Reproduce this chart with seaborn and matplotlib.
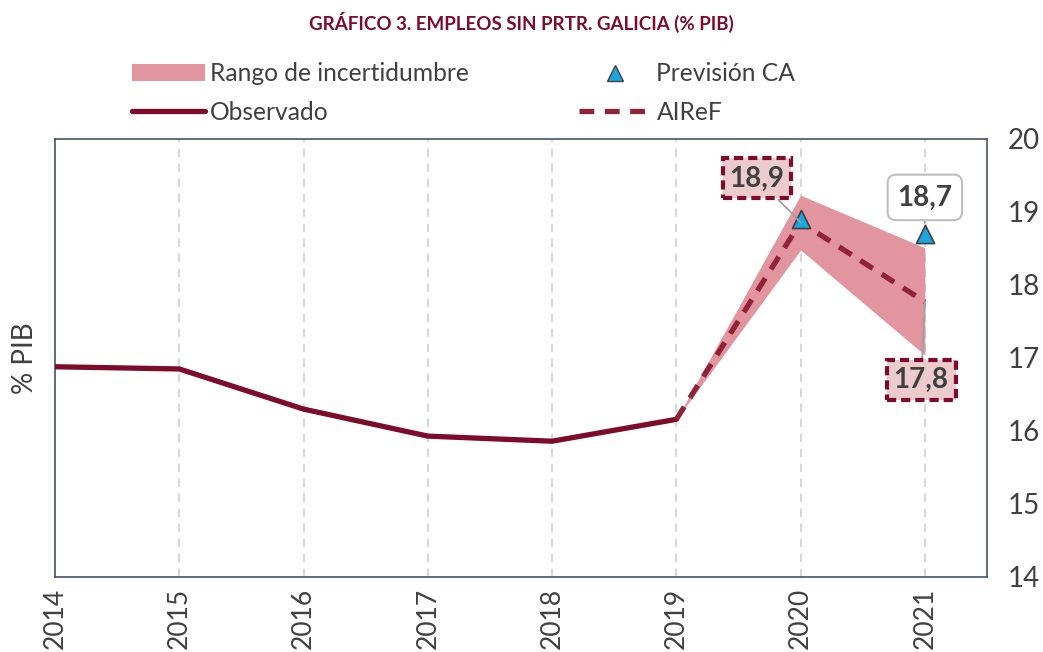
import matplotlib
matplotlib.use("Agg")
import matplotlib.pyplot as plt
import seaborn as sns
import pandas as pd
import numpy as np
from matplotlib.patches import Patch
from matplotlib.lines import Line2D

years = [2014, 2015, 2016, 2017, 2018, 2019, 2020, 2021]
observado = [16.88, 16.85, 16.30, 15.93, 15.86, 16.16]
obs_years = [2014, 2015, 2016, 2017, 2018, 2019]
airef_years = [2019, 2020, 2021]
airef = [16.16, 18.86, 17.77]
band_low = [16.16, 18.48, 17.04]
band_high = [16.16, 19.23, 18.51]
prev_years = [2020, 2021]
prevision = [18.9, 18.7]
yticks = [14, 15, 16, 17, 18, 19, 20]

sns.set_theme(style="white")
plt.rcParams['font.family'] = ['Lato', 'DejaVu Sans']

dark_red = "#7F0B2C"
airef_col = "#912339"
band_col = "#E3959F"
spine_col = "#44546A"
text_col = "#404040"

fig = plt.figure(figsize=(10.43, 6.52), dpi=100)
ax = fig.add_axes([55/1043, 1-577/652, (987-55)/1043, (577-139)/652])

ax.fill_between(airef_years, band_low, band_high, color=band_col, lw=0, zorder=1)
df_obs = pd.DataFrame({"year": obs_years, "v": observado})
sns.lineplot(data=df_obs, x="year", y="v", ax=ax, color=dark_red, lw=3.8, zorder=3)
df_air = pd.DataFrame({"year": airef_years, "v": airef})
sns.lineplot(data=df_air, x="year", y="v", ax=ax, color=airef_col, lw=3.8,
             dashes=False, zorder=4)
ax.lines[-1].set_dashes([2.8, 2.0])
df_prev = pd.DataFrame({"year": prev_years, "v": prevision})
sns.scatterplot(data=df_prev, x="year", y="v", ax=ax, marker="^", s=170,
                color="#1AA7E0", edgecolor="#404040", linewidth=1.2, zorder=5)

ax.set_xlim(2014, 2021.5)
ax.set_ylim(14, 20)
ax.set_xticks(years)
ax.set_xticklabels([str(y) for y in years], rotation=90, fontsize=19, color=text_col)
ax.yaxis.tick_right()
ax.set_yticks(yticks)
ax.set_yticklabels([str(v) for v in yticks], fontsize=20, color=text_col)
ax.tick_params(axis='y', pad=15, length=0)
ax.tick_params(axis='x', pad=8, length=0)
ax.set_xlabel("")
ax.set_ylabel("% PIB", fontsize=20, color=text_col, labelpad=12)
ax.yaxis.set_label_position("left")
for x in years[1:]:
    ax.axvline(x, color="#D0D0D0", lw=1.2, ls=(0, (5, 4)), zorder=0)
for s in ax.spines.values():
    s.set_color(spine_col)
    s.set_linewidth(1.2)

# annotations
ax.annotate("18,9", xy=(2020, airef[1]), xytext=(2019.65, 19.46),
            ha="center", va="center", fontsize=20, fontweight="bold", color=text_col,
            bbox=dict(boxstyle="square,pad=0.25", fc="#EBCBCD", ec=dark_red, lw=3, ls=(0, (2.2, 1.2))),
            arrowprops=dict(arrowstyle="-", color="#A0A0A0", lw=1.3, shrinkA=0, shrinkB=0), zorder=6)
ax.annotate("18,7", xy=(2021, prevision[1] + 0.15), xytext=(2021.0, 19.2),
            ha="center", va="center", fontsize=20, fontweight="bold", color=text_col,
            bbox=dict(boxstyle="round,pad=0.35,rounding_size=0.3", fc="white", ec="#BFBFBF", lw=1.5),
            arrowprops=dict(arrowstyle="-", color="#A0A0A0", lw=1.3, shrinkA=0, shrinkB=0), zorder=6)
ax.annotate("17,8", xy=(2021, airef[2]), xytext=(2020.97, 16.7),
            ha="center", va="center", fontsize=20, fontweight="bold", color=text_col,
            bbox=dict(boxstyle="square,pad=0.25", fc="#EBCBCD", ec=dark_red, lw=3, ls=(0, (2.2, 1.2))),
            arrowprops=dict(arrowstyle="-", color="#A0A0A0", lw=1.3, shrinkA=0, shrinkB=0), zorder=6)

fig.text(0.5, 1-22/652, "GRÁFICO 3. EMPLEOS SIN PRTR. GALICIA (% PIB)", ha="center", va="center",
         fontsize=13.5, fontweight="bold", color=dark_red)

handles = [
    Patch(facecolor=band_col, edgecolor="none"),
    Line2D([0], [0], color=dark_red, lw=3.8),
    Line2D([0], [0], marker="^", color="none", markerfacecolor="#1AA7E0", markeredgecolor="#404040",
           markersize=11),
    Line2D([0], [0], color=airef_col, lw=3.8, dashes=[2.8, 2.0]),
]
labels = ["Rango de incertidumbre", "Observado", "Previsión CA", "AIReF"]
fig.legend(handles, labels, ncol=2, loc="center left", bbox_to_anchor=(110/1043, 1-93/652),
           frameon=False, fontsize=17.7, labelcolor=text_col, handlelength=2.95, handletextpad=0.2,
           columnspacing=4.5, labelspacing=0.62)

fig.savefig("out.png", dpi=100)
